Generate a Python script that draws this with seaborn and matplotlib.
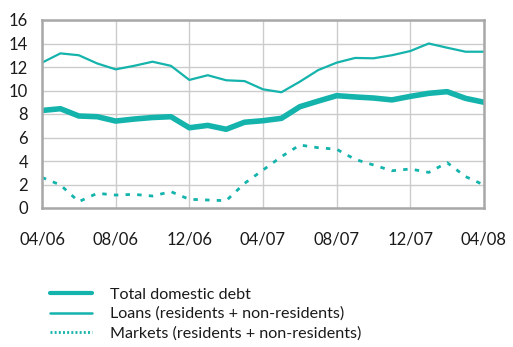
import matplotlib
matplotlib.use("Agg")
import matplotlib.pyplot as plt
from matplotlib.lines import Line2D
import seaborn as sns
import pandas as pd
import numpy as np

# Monthly observations, April 2006 – April 2008
months = ["04/06", "05/06", "06/06", "07/06", "08/06", "09/06", "10/06", "11/06",
          "12/06", "01/07", "02/07", "03/07", "04/07", "05/07", "06/07", "07/07",
          "08/07", "09/07", "10/07", "11/07", "12/07", "01/08", "02/08", "03/08",
          "04/08"]

total_debt = [8.3, 8.45, 7.83, 7.77, 7.4, 7.57, 7.7, 7.77, 6.83, 7.03, 6.7, 7.3,
              7.43, 7.63, 8.62, 9.1, 9.56, 9.45, 9.36, 9.2, 9.5, 9.76, 9.9, 9.33,
              9.0]
loans = [12.37, 13.16, 13.0, 12.3, 11.8, 12.1, 12.45, 12.1, 10.9, 11.3, 10.87,
         10.8, 10.1, 9.85, 10.75, 11.74, 12.37, 12.77, 12.74, 13.0, 13.36, 14.0,
         13.64, 13.3, 13.3]
markets = [2.6, 1.96, 0.54, 1.25, 1.1, 1.16, 1.02, 1.39, 0.74, 0.68, 0.62, 2.1,
           3.23, 4.37, 5.36, 5.13, 5.0, 4.14, 3.66, 3.17, 3.32, 3.03, 3.86, 2.67,
           1.96]

series_names = ["Total domestic debt",
                "Loans (residents + non-residents)",
                "Markets (residents + non-residents)"]

tick_labels = ["04/06", "08/06", "12/06", "04/07", "08/07", "12/07", "04/08"]
y_ticks = [0, 2, 4, 6, 8, 10, 12, 14, 16]

df = pd.DataFrame({"pos": np.arange(len(months)), "month": months,
                   series_names[0]: total_debt,
                   series_names[1]: loans,
                   series_names[2]: markets})

sns.set_theme(style="white")
plt.rcParams["font.family"] = ["Lato", "DejaVu Sans"]

teal = "#14b3ac"
fig = plt.figure(figsize=(5.13, 3.47), dpi=100)
ax = fig.add_axes([42 / 513, 1 - 208 / 347, 442 / 513, 188 / 347])

sns.lineplot(data=df, x="pos", y=series_names[1], ax=ax, color=teal,
             linewidth=1.6, legend=False)
sns.lineplot(data=df, x="pos", y=series_names[2], ax=ax, color=teal,
             linewidth=2.0, linestyle=(0, (1.6, 2.6)), legend=False)
sns.lineplot(data=df, x="pos", y=series_names[0], ax=ax, color=teal,
             linewidth=4.0, legend=False)

ax.set_xlim(0, len(months) - 1)
ax.set_ylim(0, 16)
ax.set_xticks([months.index(m) for m in tick_labels])
ax.set_xticklabels(tick_labels)
ax.set_yticks(y_ticks)
ax.set_xlabel("")
ax.set_ylabel("")
ax.tick_params(axis="both", length=0, labelsize=12, colors="#1a1a1a")
ax.tick_params(axis="x", pad=17)
ax.tick_params(axis="y", pad=10)
ax.grid(True, color="#cccccc", linewidth=1.0)
ax.set_axisbelow(True)
for side in ax.spines.values():
    side.set_visible(True)
    side.set_color("#a8a8a8")
    side.set_linewidth(1.8)

# Legend below the plot, with a finer dotted key for the market series
handles = [Line2D([], [], color=teal, linewidth=3.0),
           Line2D([], [], color=teal, linewidth=1.8),
           Line2D([], [], color=teal, linewidth=2.0, linestyle=(0, (0.7, 0.8)))]
fig.legend(handles, series_names,
           loc="center left", bbox_to_anchor=(50 / 513, 1 - 314 / 347),
           frameon=False, fontsize=11.6, handlelength=2.6, handletextpad=1.15,
           labelspacing=0.32, borderpad=0, borderaxespad=0,
           labelcolor="#1a1a1a")

# Subtitle sitting at the very top edge of the figure
fig.text(48 / 513, 1 + 2.6 / 347, "(year-on-year percentage change)",
         fontsize=12, color="#1a1a1a", va="baseline", ha="left")

fig.savefig("out.png", dpi=100)
